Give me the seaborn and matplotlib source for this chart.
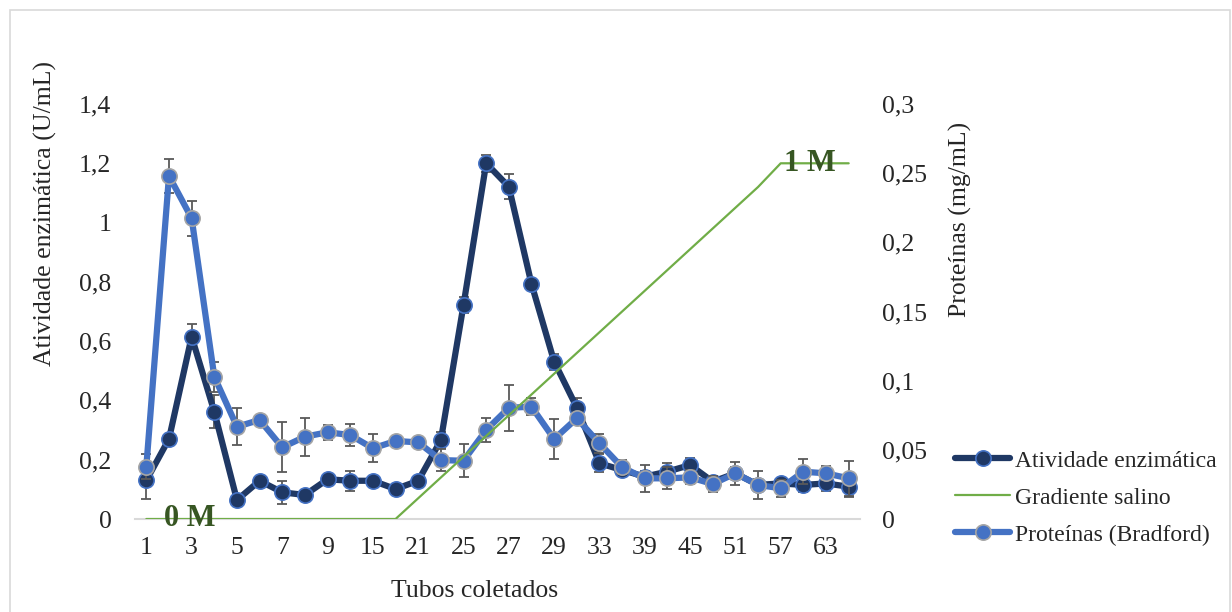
import matplotlib
matplotlib.use("Agg")
import matplotlib.pyplot as plt
import seaborn as sns
import pandas as pd
from matplotlib.patches import Rectangle
from matplotlib.ticker import FuncFormatter

# Tubes collected during the ion-exchange elution
tubos = [1, 2, 3, 4, 5, 6, 7, 8, 9, 12, 15, 18, 21, 23, 25, 26,
         27, 28, 29, 31, 33, 36, 39, 42, 45, 48, 51, 54, 57, 60, 63, 66]

# Enzyme activity (U/mL) and its standard deviation
atividade = [0.13, 0.27, 0.615, 0.362, 0.064, 0.129, 0.09, 0.081, 0.134, 0.129,
             0.129, 0.101, 0.129, 0.266, 0.722, 1.2, 1.121, 0.793, 0.531, 0.376,
             0.188, 0.165, 0.143, 0.16, 0.182, 0.126, 0.154, 0.115, 0.12, 0.115,
             0.12, 0.109]
atividade_dp = [0.062, 0.0, 0.042, 0.056, 0.008, 0.01, 0.038, 0.01, 0.01, 0.034,
                0.01, 0.01, 0.01, 0.026, 0.028, 0.029, 0.042, 0.01, 0.027, 0.032,
                0.03, 0.02, 0.02, 0.03, 0.025, 0.02, 0.02, 0.02, 0.02, 0.025,
                0.024, 0.035]

# Total protein by Bradford (mg/mL) and its standard deviation
proteinas = [0.0378, 0.248, 0.2174, 0.1029, 0.0667, 0.0716, 0.0518, 0.0595, 0.0627,
             0.0607, 0.0511, 0.0564, 0.0554, 0.0426, 0.0421, 0.0643, 0.0804, 0.0812,
             0.0578, 0.0728, 0.0547, 0.0374, 0.0294, 0.0294, 0.0301, 0.0253, 0.033,
             0.0246, 0.0222, 0.0342, 0.033, 0.0294]
proteinas_dp = [0.0092, 0.012, 0.0125, 0.0108, 0.0135, 0.002, 0.018, 0.0137, 0.0053,
                0.0077, 0.0101, 0.002, 0.002, 0.008, 0.0118, 0.0084, 0.0166, 0.006,
                0.0145, 0.003, 0.0067, 0.005, 0.0096, 0.008, 0.005, 0.006, 0.0084,
                0.0104, 0.0063, 0.0089, 0.005, 0.0128]

# NaCl gradient (0 M -> 1 M), drawn on the activity scale
gradiente = [0, 0, 0, 0, 0, 0, 0, 0, 0, 0, 0, 0,
             0.07, 0.14, 0.21, 0.28, 0.35, 0.42, 0.49, 0.56, 0.63, 0.70, 0.77, 0.84,
             0.91, 0.98, 1.05, 1.12, 1.2, 1.2, 1.2, 1.2]

rotulos_gradiente = ["0 M", "1 M"]

df = pd.DataFrame({
    "pos": range(len(tubos)),
    "tubo": tubos,
    "atividade": atividade,
    "proteinas": proteinas,
    "gradiente": gradiente,
})

sns.set_theme(style="white")
plt.rcParams["font.family"] = ["Liberation Serif", "DejaVu Serif"]
plt.rcParams["font.size"] = 18.5

COR_ATIV = "#1F3864"
COR_PROT = "#4472C4"
COR_GRAD = "#70AD47"
COR_ERRO = "#595959"
COR_ROTULO = "#375623"

fig = plt.figure(figsize=(12.32, 6.12), dpi=100)
ax = fig.add_axes([135 / 1232, 1 - 519 / 612, 725 / 1232, 415 / 612])
ax2 = ax.twinx()

# Enzyme activity (primary axis)
ax.errorbar(df["pos"], df["atividade"], yerr=atividade_dp, fmt="none",
            ecolor=COR_ERRO, elinewidth=1.3, capsize=3.6, capthick=1.3, zorder=2)
sns.lineplot(data=df, x="pos", y="atividade", ax=ax, color=COR_ATIV, linewidth=4.5,
             marker="o", markersize=11, markerfacecolor=COR_ATIV,
             markeredgecolor=COR_PROT, markeredgewidth=1.2,
             label="Atividade enzimática", zorder=3)

# Protein (secondary axis)
ax2.errorbar(df["pos"], df["proteinas"], yerr=proteinas_dp, fmt="none",
             ecolor=COR_ERRO, elinewidth=1.3, capsize=3.6, capthick=1.3, zorder=2)
sns.lineplot(data=df, x="pos", y="proteinas", ax=ax2, color=COR_PROT, linewidth=4.5,
             marker="o", markersize=11, markerfacecolor=COR_PROT,
             markeredgecolor="#A5A5A5", markeredgewidth=1.2,
             label="Proteínas (Bradford)", zorder=3)

# Salt gradient on the activity scale, drawn above both series
sns.lineplot(data=df, x="pos", y="gradiente", ax=ax2, color=COR_GRAD, linewidth=1.6,
             label="Gradiente salino", zorder=4, transform=ax.transData)

# Gradient end labels
for i, txt in [(2, rotulos_gradiente[0]), (29, rotulos_gradiente[1])]:
    ax2.annotate(txt, xy=(i, gradiente[i]), xycoords=ax.transData,
                 xytext=(-1.5 if i == 2 else 5, 0), textcoords="offset points",
                 ha="center", va="center", fontsize=22, fontweight="bold",
                 color=COR_ROTULO, zorder=5)

# Axes limits and ticks
n = len(tubos)
ax.set_xlim(-0.5, n - 0.5)
ax.set_ylim(0, 1.4)
ax2.set_ylim(0, 0.3)
ax.set_yticks([0, 0.2, 0.4, 0.6, 0.8, 1.0, 1.2, 1.4])
ax2.set_yticks([0, 0.05, 0.1, 0.15, 0.2, 0.25, 0.3])

def virgula(v, _):
    s = f"{v:.2f}".rstrip("0").rstrip(".")
    return s.replace(".", ",")

ax.yaxis.set_major_formatter(FuncFormatter(virgula))
ax2.yaxis.set_major_formatter(FuncFormatter(virgula))

pos_rot = list(range(0, n, 2))
ax.set_xticks(pos_rot)
ax.set_xticklabels([str(tubos[p]) for p in pos_rot])

ax.tick_params(axis="x", length=0, pad=13, labelsize=18.5)
ax.tick_params(axis="y", length=0, pad=17, labelsize=18.5)
ax2.tick_params(axis="y", length=0, pad=16, labelsize=18.5)

for a in (ax, ax2):
    for side in ("left", "right", "top", "bottom"):
        a.spines[side].set_visible(False)
    a.grid(False)
ax.spines["bottom"].set_visible(True)
ax.spines["bottom"].set_color("#D9D9D9")
ax.spines["bottom"].set_linewidth(1.5)

ax.set_xlabel("Tubos coletados", fontsize=18.5)
ax.xaxis.set_label_coords((475 - 135) / 725, (519 - 580) / 415)
ax.set_ylabel("Atividade enzimática (U/mL)", fontsize=18.5, rotation=90,
              ha="center", va="center")
ax.yaxis.set_label_coords((45 - 135) / 725, (519 - 214) / 415)
ax2.set_ylabel("Proteínas (mg/mL)", fontsize=18.5, rotation=90,
               ha="center", va="center")
ax2.yaxis.set_label_coords((960 - 135) / 725, (519 - 219) / 415)

# Combined legend to the right of the plot
h1, l1 = ax.get_legend_handles_labels()
h2, l2 = ax2.get_legend_handles_labels()
hmap = dict(zip(l1 + l2, h1 + h2))
ordem = ["Atividade enzimática", "Gradiente salino", "Proteínas (Bradford)"]
for a in (ax, ax2):
    if a.get_legend() is not None:
        a.get_legend().remove()
fig.legend([hmap[k] for k in ordem], ordem, loc="upper left",
           bbox_to_anchor=(955 / 1232, 1 - 450 / 612), frameon=False,
           fontsize=17, handlelength=2.35, handletextpad=0.2,
           labelspacing=0.66, borderpad=0, borderaxespad=0, numpoints=1)

# Outer chart frame
fig.patches.append(Rectangle((10 / 1232, -0.05), 1220 / 1232, 1.05 - 10 / 612,
                             transform=fig.transFigure, fill=False,
                             edgecolor="#D9D9D9", linewidth=1.2))

fig.savefig("out.png", dpi=100)
